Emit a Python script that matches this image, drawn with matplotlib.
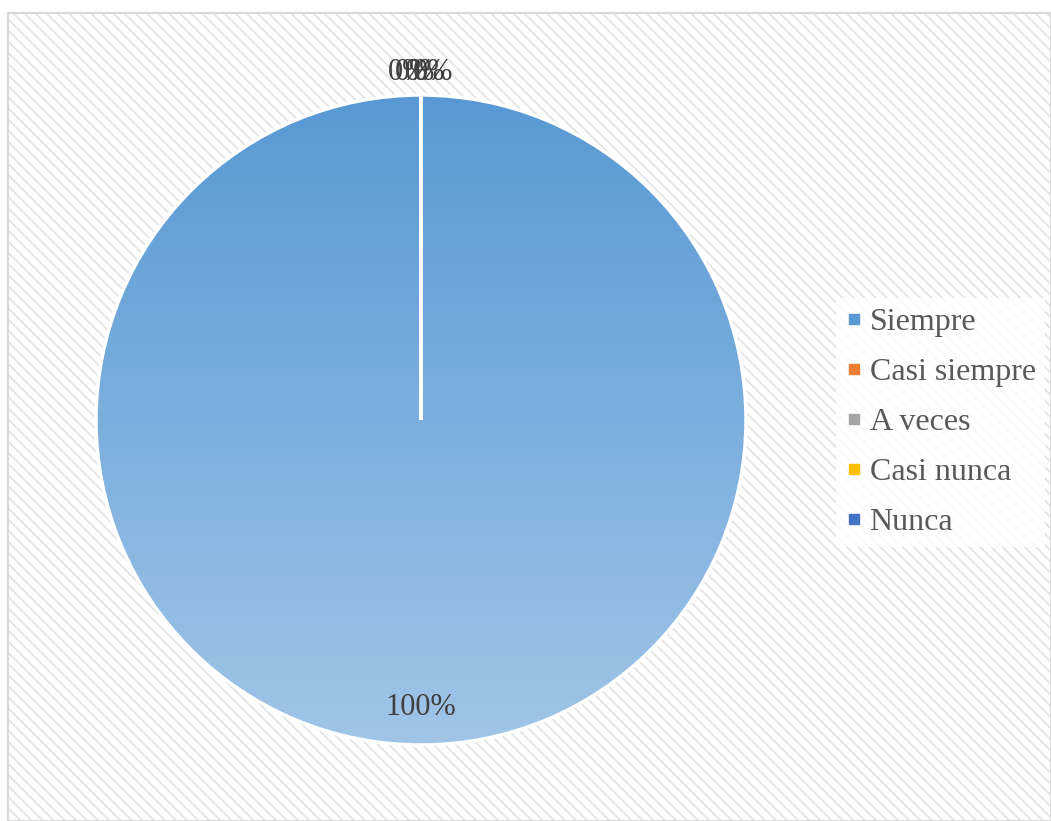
import numpy as np
import matplotlib.pyplot as plt
from matplotlib.patches import Rectangle
from matplotlib.lines import Line2D

# Respuestas de la encuesta
categorias = ['Siempre', 'Casi siempre', 'A veces', 'Casi nunca', 'Nunca']
valores = [100, 0, 0, 0, 0]
colores = ['#5b9bd5', '#ed7d31', '#a5a5a5', '#ffc000', '#4472c4']

plt.rcParams['font.family'] = ['Liberation Serif', 'DejaVu Serif']
plt.rcParams['hatch.linewidth'] = 1.3

W, H = 1051, 821
fig = plt.figure(figsize=(W / 100, H / 100), dpi=100)

# Fondo rayado del área del gráfico
caja = ((8 / W, 0), (W - 8) / W, (H - 13) / H)
fondo = Rectangle(*caja, transform=fig.transFigure, facecolor='white',
                  edgecolor='#e4e4e4', hatch='\\\\\\', lw=0, zorder=-2)
borde = Rectangle(*caja, transform=fig.transFigure, fill=False,
                  edgecolor='#d9d9d9', lw=1.5, zorder=-1)
fig.patches.extend([fondo, borde])

ax = fig.add_axes([96 / W, 76 / H, 650 / W, 650 / H])
wedges, _ = ax.pie(valores, colors=colores, startangle=90, counterclock=False,
                   wedgeprops=dict(edgecolor='white', linewidth=2.5))
for w in wedges:
    w.set_clip_on(False)

# Degradado vertical dentro del sector principal
arriba = np.array([88, 153, 212]) / 255
abajo = np.array([160, 197, 231]) / 255
t = np.linspace(0, 1, 256)[:, None]
grad = (arriba * (1 - t) + abajo * t)[:, None, :]
im = ax.imshow(grad, extent=(-1, 1, -1, 1), aspect='auto', zorder=0.5)
im.set_clip_path(wedges[0])
wedges[0].set_facecolor('none')

ax.set_xlim(-1, 1)
ax.set_ylim(-1, 1)
ax.set_aspect('equal')
ax.set_axis_off()

# Etiquetas de porcentaje
total = sum(valores)
desp_cero = iter([-9, -4, 3, 9])
for w, v in zip(wedges, valores):
    ang = np.deg2rad((w.theta1 + w.theta2) / 2)
    r = 0.885 if v > 0 else 1.07
    dx = 0 if v > 0 else next(desp_cero)
    ax.annotate(f'{v / total * 100:.0f}%', (r * np.cos(ang), r * np.sin(ang)),
                xytext=(dx, 0), textcoords='offset points',
                ha='center', va='center', fontsize=22, color='#404040',
                annotation_clip=False)

handles = [Line2D([], [], marker='s', linestyle='none', markersize=7,
                  markerfacecolor=c, markeredgecolor=c) for c in colores]
fig.legend(handles, categorias, loc='upper left',
           bbox_to_anchor=(836 / W, 1 - 298 / H), frameon=True,
           framealpha=0.85, facecolor='white', edgecolor='none',
           fancybox=False, fontsize=23, labelcolor='#595959',
           handlelength=0.5, handletextpad=0.25, labelspacing=0.65,
           borderpad=0.3, borderaxespad=0)

fig.savefig('out.png', dpi=100)
